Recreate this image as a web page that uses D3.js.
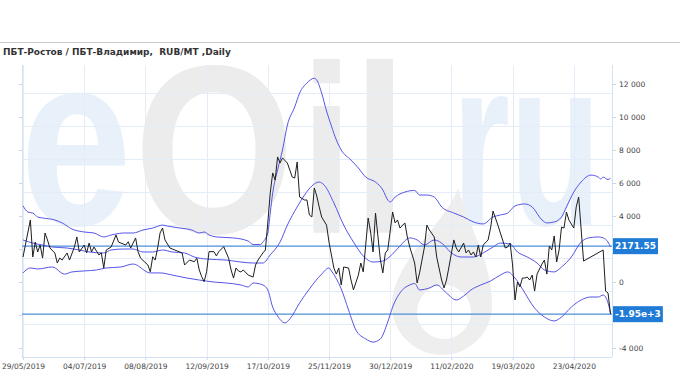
<!DOCTYPE html>
<html>
<head>
<meta charset="utf-8">
<script src="https://cdn.jsdelivr.net/npm/d3@7"></script>
<style>
  body { margin: 0; background: #fff; }
  svg { display: block; font-family: "DejaVu Sans", Verdana, sans-serif; }
</style>
</head>
<body>
<div id="chart"></div>
<script>
// ---- data ----
const title = "ПБТ-Ростов / ПБТ-Владимир,\u00a0 RUB/MT ,Daily";

// x axis: trading-day index, a label every 25 days
const xTickIdx = [0, 25, 50, 75, 100, 125, 150, 175, 200, 225];
const xTickLabels = ["29/05/2019", "04/07/2019", "08/08/2019", "12/09/2019", "17/10/2019",
  "25/11/2019", "30/12/2019", "11/02/2020", "19/03/2020", "23/04/2020"];
const yTicks = [-4000, -2000, 0, 2000, 4000, 6000, 8000, 10000, 12000];
// labels for 2000 / -2000 sit under the value flags, so they are not shown
const yHidden = [2000, -2000];

// spread, RUB/MT (day index, value)
const spreadDay = [0,3,4,5,6,7,8,9,10,11,13,14,15,16,18,19,21,22,23,25,26,27,28,29,31,32,33,34,36,38,39,40,42,
  43,44,46,47,48,51,52,53,54,55,56,57,58,60,62,65,66,68,70,71,72,73,74,75,76,78,79,80,82,84,85,86,87,88,89,90,
  92,94,95,96,98,99,100,101,102,103,104,105,106,108,110,111,112,113,115,116,117,118,119,120,121,122,124,125,
  127,128,129,130,131,133,134,135,137,138,139,140,141,142,143,144,146,147,148,149,151,152,153,154,156,157,158,
  160,161,162,163,164,165,166,168,169,171,172,173,174,176,177,178,180,181,182,183,184,185,186,187,188,190,191,
  192,194,195,197,198,199,200,201,202,203,204,205,206,207,208,209,210,212,213,214,215,216,217,218,219,220,221,
  222,223,225,226,227,229,237,238,239,240];
const spreadVal = [1515,3760,1515,2420,1820,2240,1450,2970,2550,2060,1760,1150,1450,1330,1760,1330,2120,2730,1820,
  2240,1760,2360,1820,2120,1640,1760,850,1940,2120,2850,2420,2360,2240,
  2440,2060,2670,1840,1450,1030,620,1530,1330,2060,2970,3270,2550,2060,1940,1760,1030,1330,1230,1450,730,320,20,
  620,1840,1840,1580,1840,2140,1440,730,240,850,670,610,730,
  420,300,1030,1330,1760,1940,3580,5390,6610,6180,7580,7210,7520,7210,6360,6300,7270,5150,4970,4970,4060,3940,
  5700,5210,4550,3940,3450,2420,
  850,480,850,-180,910,850,120,-480,420,1150,610,2240,3880,3030,1820,4180,1330,550,1760,1940,4240,3580,3760,3270,
  3580,2730,2120,
  1150,-60,550,1330,2120,3450,3150,2730,1515,120,-360,120,910,2550,2060,1820,2360,1760,1940,1640,1820,1515,2240,
  1515,2240,2550,3270,
  4300,3450,2970,2060,2120,2360,1030,-1090,0,-300,240,240,300,120,420,-550,480,1090,1330,480,2180,1940,2790,1210,
  1940,3330,3270,
  4240,3760,3270,4550,5150,1270,1940,-550,-670,-1950];

// bands (day index, value)
const upperDay = [0,2,4,6,8,13,16,20,25,29,33,36,38,41,45,49,53,57,59,64,69,72,74,76,79,86,92,94,97,98,100,101,102,
  104,106,108,111,113,116,119,120,122,124,126,128,130,134,137,140,144,147,149,150,152,156,160,162,165,168,171,176,
  180,184,188,192,195,198,201,205,208,212,214,217,220,222,225,228,232,235,236,237,239,240];
const upperVal = [4620,4240,4180,3940,3880,3760,3580,3210,3030,2970,2730,2850,2910,2970,2970,3150,3270,3450,3390,
  3270,3150,2970,3030,2850,2730,2670,2480,2270,2270,2420,2970,4180,5390,6790,8000,9510,10610,11450,12060,12350,
  12240,11450,10360,9450,8610,8000,7390,6910,6360,6060,5580,4970,4850,5150,5450,5550,5270,5270,5150,4550,4180,
  3940,3640,3520,3940,4060,4180,4610,4730,4550,3760,3580,3640,3940,4550,5450,6060,6480,6360,6240,6360,6210,6300];

const midDay = [0,4,8,12,18,23,27,33,36,41,45,49,53,57,61,66,70,75,83,89,94,98,101,105,108,112,115,118,121,123,
  127,131,135,139,143,147,151,154,158,161,164,168,171,175,179,184,188,192,195,199,202,206,210,213,217,220,224,
  228,231,235,237,239,240];
const midVal = [2550,2360,2240,2120,2060,1940,1820,1760,1940,2000,2000,1820,1820,1940,1820,1760,1515,1390,1330,
  1210,1150,1150,1640,2420,3450,4550,5270,5820,6060,5880,4790,3450,2420,1580,1210,1270,1700,2180,2670,2550,2240,
  2550,2360,1760,1515,1515,1760,2120,2360,2300,1820,1515,1150,730,610,910,1515,2420,2670,2730,2670,2420,2120];

const lowerDay = [0,3,6,12,17,20,25,30,34,40,45,52,56,61,67,72,78,83,89,92,94,98,100,102,104,107,109,113,117,
  122,125,126,130,133,136,140,143,146,149,151,155,158,160,162,166,169,173,177,180,183,187,191,195,198,201,204,
  209,213,217,220,224,228,232,235,237,239,240];
const lowerVal = [550,850,790,910,480,610,670,730,850,910,1090,550,550,420,240,120,0,-60,-180,-300,-60,-180,-480,
  -1520,-2060,-2480,-2240,-1270,-420,480,850,670,-420,-1700,-2910,-3450,-3640,-3450,-2420,-1520,-480,-180,-90,
  -480,-360,-180,-670,-1090,-850,-480,-180,60,420,610,240,-420,-1580,-2120,-2360,-2120,-1520,-1090,-910,-910,
  -790,-1270,-1880];

// horizontal reference levels and their labels
const refLevels = [2171.55, -1950];
const refLabels = ["2171.55", "-1.95e+3"];

// ---- layout ----
const W = 680, H = 380;
const plot = {left: 22, right: 612, top: 65, bottom: 357};

const svg = d3.select("#chart").append("svg")
  .attr("width", W)
  .attr("height", H);

const x = d3.scaleLinear().domain([0, 240]).range([23, 610.5]);
const y = d3.scaleLinear().domain([-4000, 12000]).range([348, 84]);

const fmt = d3.formatLocale({decimal: ".", thousands: " ", grouping: [3], currency: ["", ""], minus: "-"}).format(",");

// header rule + title
svg.append("line")
  .attr("x1", 0).attr("x2", W).attr("y1", 42.5).attr("y2", 42.5)
  .attr("stroke", "#cccccc");
svg.append("text")
  .attr("x", 3).attr("y", 54.5)
  .attr("font-size", 9).attr("font-weight", "bold").attr("fill", "#333")
  .text(title);

// watermark "eOil.ru" (faint logo behind the plot)
const wm = svg.append("g").attr("font-family", "'Liberation Sans', Arial, sans-serif").attr("font-weight", "bold");
wm.append("text").attr("transform", "translate(20,225) scale(0.82,1)").attr("font-size", 245).attr("fill", "#e8f1fa").text("e");
wm.append("text").attr("transform", "translate(134,233) scale(0.86,1)").attr("font-size", 240).attr("fill", "#ececec").text("O");
wm.append("text").attr("transform", "translate(300,233) scale(0.8,1)").attr("font-size", 240).attr("fill", "#ececec").text("il");
wm.append("text").attr("transform", "translate(452,225) scale(0.62,1)").attr("font-size", 240).attr("fill", "#e8f1fa").text("ru");
// the oil drop that stands for the dot
wm.append("path")
  .attr("fill", "#eeeeee")
  .attr("fill-rule", "evenodd")
  .attr("d", "M458,188 C445,225 392,262 392,305 A50,50 0 0 0 492,305 C492,262 470,230 458,188 Z " +
             "M444,312 m-27,0 a27,27 0 1 0 54,0 a27,27 0 1 0 -54,0 Z");

// grid
const grid = svg.append("g").attr("stroke", "#e4edf7").attr("shape-rendering", "crispEdges");
grid.selectAll(".vg").data(xTickIdx).join("line")
  .attr("x1", d => Math.round(x(d)) + 0.5).attr("x2", d => Math.round(x(d)) + 0.5)
  .attr("y1", plot.top).attr("y2", plot.bottom);
grid.selectAll(".hg").data(yTicks).join("line")
  .attr("x1", plot.left).attr("x2", plot.right)
  .attr("y1", d => Math.round(y(d) + 8.5) + 0.5).attr("y2", d => Math.round(y(d) + 8.5) + 0.5);

// frame
const frame = svg.append("g").attr("stroke", "#d2e2f2").attr("shape-rendering", "crispEdges");
frame.append("line").attr("x1", plot.left + 0.5).attr("x2", plot.left + 0.5).attr("y1", plot.top).attr("y2", plot.bottom);
frame.append("line").attr("x1", plot.right + 0.5).attr("x2", plot.right + 0.5).attr("y1", plot.top).attr("y2", plot.bottom);
frame.append("line").attr("x1", plot.left).attr("x2", plot.right).attr("y1", plot.bottom + 0.5).attr("y2", plot.bottom + 0.5);

// y axis on the right
const yAxis = d3.axisRight(y).tickValues(yTicks).tickSize(4).tickPadding(3)
  .tickFormat(d => yHidden.includes(d) ? "" : fmt(d));
const ya = svg.append("g")
  .attr("transform", `translate(${plot.right},0)`)
  .call(yAxis);
ya.select(".domain").remove();
ya.selectAll("line").attr("stroke", "#c9d9ea");
ya.selectAll("text").attr("fill", "#444").attr("font-size", 7.5).attr("font-family", "'DejaVu Sans', Verdana, sans-serif");

// small ticks on the left edge
svg.append("g").selectAll("line").data(yTicks).join("line")
  .attr("x1", plot.left - 3).attr("x2", plot.left)
  .attr("y1", d => Math.round(y(d)) + 0.5).attr("y2", d => Math.round(y(d)) + 0.5)
  .attr("stroke", "#c9d9ea");

// x axis
const xAxis = d3.axisBottom(x).tickValues(xTickIdx).tickSize(3).tickPadding(4)
  .tickFormat((d, i) => xTickLabels[i]);
const xa = svg.append("g")
  .attr("transform", `translate(0,${plot.bottom})`)
  .call(xAxis);
xa.select(".domain").remove();
xa.selectAll("line").attr("stroke", "#c9d9ea");
xa.selectAll("text").attr("fill", "#444").attr("font-size", 7.5).attr("font-family", "'DejaVu Sans', Verdana, sans-serif");

// reference lines
svg.append("g").selectAll("line").data(refLevels).join("line")
  .attr("x1", plot.left).attr("x2", plot.right)
  .attr("y1", d => y(d)).attr("y2", d => y(d))
  .attr("stroke", "#4a8fd8").attr("stroke-width", 1.2);

// bands
const bandLine = d3.line().curve(d3.curveMonotoneX);
const bands = [
  upperDay.map((d, i) => [x(d), y(upperVal[i])]),
  midDay.map((d, i) => [x(d), y(midVal[i])]),
  lowerDay.map((d, i) => [x(d), y(lowerVal[i])])
];
svg.append("g").selectAll("path").data(bands).join("path")
  .attr("d", bandLine)
  .attr("fill", "none")
  .attr("stroke", "#5555e8")
  .attr("stroke-width", 1);

// spread line
svg.append("path")
  .attr("d", d3.line()(spreadDay.map((d, i) => [x(d), y(spreadVal[i])])))
  .attr("fill", "none")
  .attr("stroke", "#1e1e1e")
  .attr("stroke-width", 1);

// value flags on the right axis
const flags = svg.append("g").selectAll("g").data(refLevels).join("g")
  .attr("transform", d => `translate(${plot.right + 1},${y(d)})`);
flags.append("rect")
  .attr("y", -8).attr("height", 16)
  .attr("fill", "#1f7bd6");
flags.append("text")
  .attr("x", 2).attr("dy", "0.35em")
  .attr("font-size", 9).attr("font-weight", "bold").attr("fill", "#fff")
  .text((d, i) => refLabels[i]);
flags.each(function() {
  const g = d3.select(this);
  const w = g.select("text").node().getComputedTextLength();
  g.select("rect").attr("width", w + 4);
});
</script>
</body>
</html>
